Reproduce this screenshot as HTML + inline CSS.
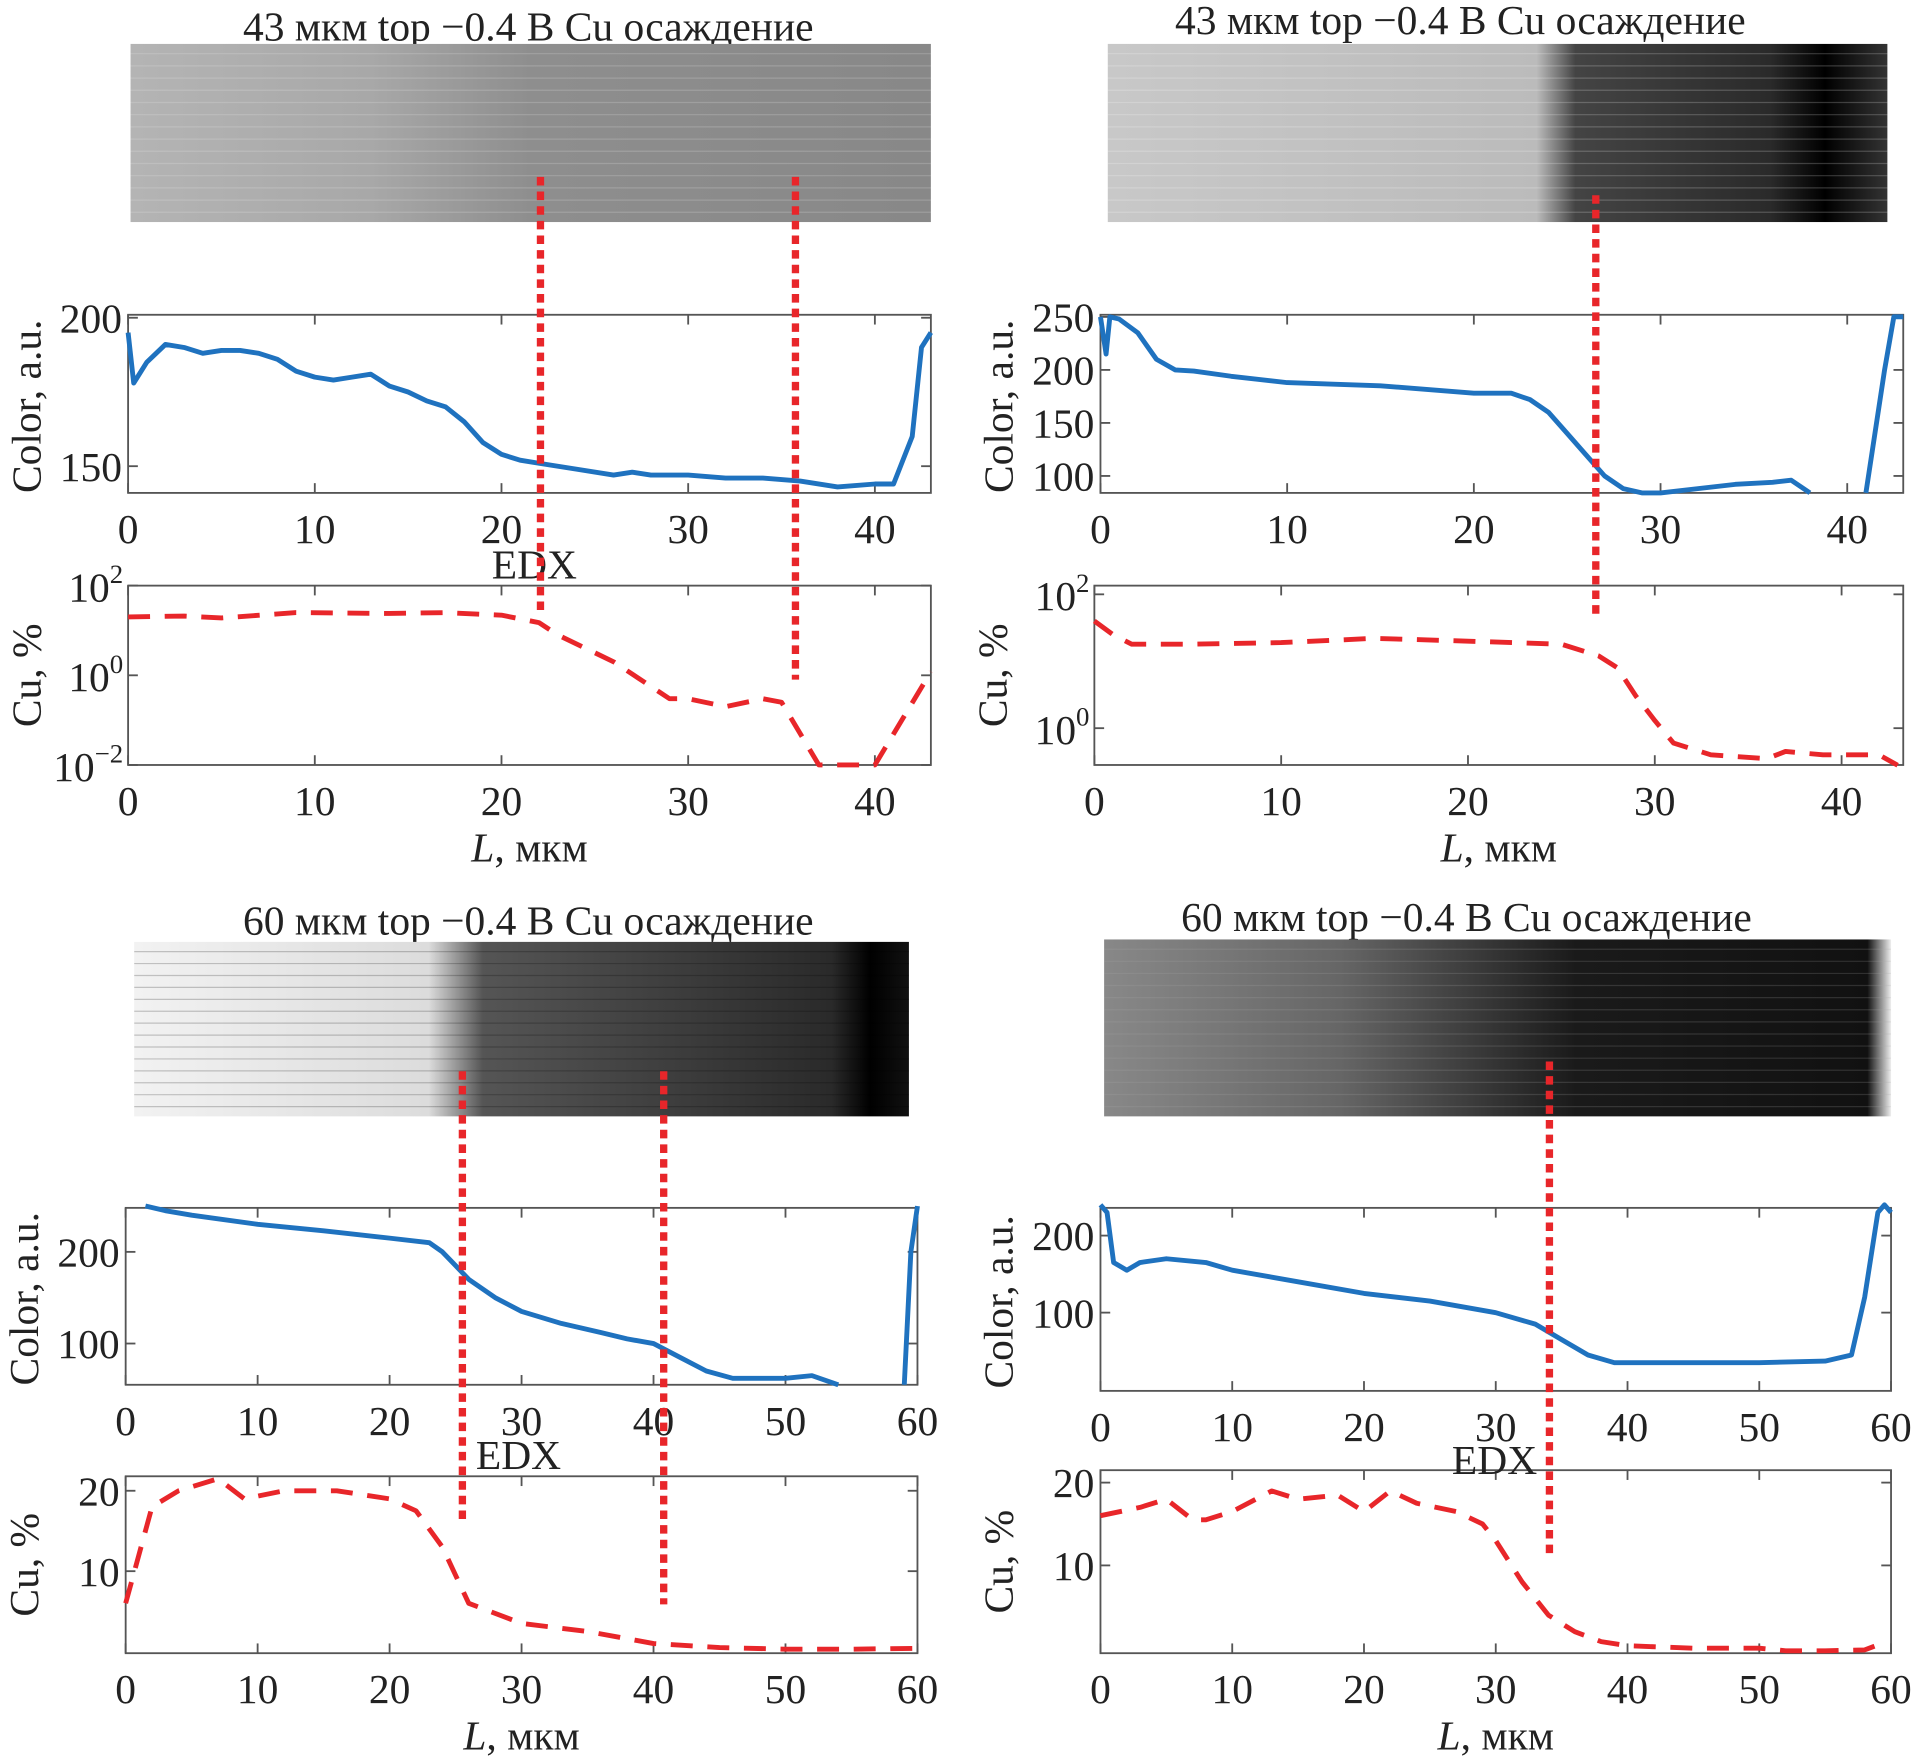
<!DOCTYPE html>
<html><head><meta charset="utf-8"><style>
html,body{margin:0;padding:0;background:#fff}
svg{display:block}
text{font-family:"Liberation Serif",serif;fill:#222}
</style></head><body>
<svg id="fig" width="1913" height="1763" viewBox="0 0 1568 1445" preserveAspectRatio="none" xmlns="http://www.w3.org/2000/svg">
<defs>
<linearGradient id="gA" x1="0" x2="1"><stop offset="0" stop-color="#b4b4b4"/><stop offset="0.3" stop-color="#a8a8a8"/><stop offset="0.5" stop-color="#8e8e8e"/><stop offset="1" stop-color="#888"/></linearGradient>
<linearGradient id="gB" x1="0" x2="1"><stop offset="0" stop-color="#c8c8c8"/><stop offset="0.55" stop-color="#bbb"/><stop offset="0.6" stop-color="#444"/><stop offset="0.85" stop-color="#2a2a2a"/><stop offset="0.92" stop-color="#000"/><stop offset="1" stop-color="#333"/></linearGradient>
<linearGradient id="gC" x1="0" x2="1"><stop offset="0" stop-color="#f2f2f2"/><stop offset="0.38" stop-color="#dcdcdc"/><stop offset="0.45" stop-color="#555"/><stop offset="0.9" stop-color="#2a2a2a"/><stop offset="0.95" stop-color="#000"/><stop offset="1" stop-color="#111"/></linearGradient>
<linearGradient id="gD" x1="0" x2="1"><stop offset="0" stop-color="#888"/><stop offset="0.3" stop-color="#666"/><stop offset="0.6" stop-color="#1a1a1a"/><stop offset="0.97" stop-color="#111"/><stop offset="1" stop-color="#eee"/></linearGradient>
</defs>
<g id="root"></g>
</svg>
<script>
// ---- Panel A data ----
const aColorX=[0,0.3,1,2,3,4,5,6,7,8,9,10,11,12,13,14,15,16,17,18,19,20,21,22,24,26,27,28,30,32,34,36,38,40,41,42,42.5,43];
const aColorY=[195,178,185,191,190,188,189,189,188,186,182,180,179,180,181,177,175,172,170,165,158,154,152,151,149,147,148,147,147,146,146,145,143,144,144,160,190,195];
const aEdxX=[0,3,5,9,14,17,20,22,23,26,29,30,32,34,35,37,38,40,43];
const aEdxY=[20,21,19,25,24,25,22,15,8,2,0.3,0.3,0.2,0.3,0.25,0.01,0.01,0.01,1.2];
// ---- Panel B data ----
const bColorX=[0,0.3,0.5,1,2,3,4,5,7,10,15,20,22,23,24,25,26,27,28,29,30,32,34,36,37,38,null,41,42,42.5,43];
const bColorY=[250,215,250,248,235,210,200,199,194,188,185,178,178,172,160,140,120,100,88,84,84,88,92,94,96,84,null,84,200,250,250];
const bEdxX=[0,1,2,5,10,15,20,25,27,28,29,30,31,33,36,37,39,42,43];
const bEdxY=[40,25,18,18,19,22,20,18,12,8,3,1.3,0.6,0.4,0.35,0.45,0.4,0.4,0.28];
// ---- Panel C data ----
const cColorX=[1.5,3,5,10,15,20,23,24,25,26,28,30,33,36,38,40,42,44,46,48,50,52,54,null,59,59.5,60];
const cColorY=[250,245,240,230,223,215,210,200,185,170,150,135,122,112,105,100,85,70,62,62,62,65,55,null,55,200,250];
const cEdxX=[0,1,2,4,7,9,12,16,20,22,24,26,30,35,40,45,50,55,60];
const cEdxY=[6,12,18,20,21.5,19,20,20,19,17.5,13,6,3.5,2.5,1,0.5,0.3,0.3,0.4];
// ---- Panel D data ----
const dColorX=[0,0.5,1,2,3,5,8,10,15,20,25,30,33,35,37,39,42,50,55,57,58,59,59.5,60];
const dColorY=[240,230,165,155,165,170,165,155,140,125,115,100,85,65,45,35,35,35,37,45,120,230,240,230];
const dEdxX=[0,3,5,7,8,10,13,15,18,20,22,24,27,29,30,32,34,36,38,40,45,50,52,55,58,59];
const dEdxY=[16,17,18,15.5,15.5,16.5,19,18,18.5,16.5,19,17.5,16.5,15,13,8,4,2,0.8,0.3,0,0,-0.3,-0.3,-0.2,0.4];
// tick labels
const xTicks43=[0,10,20,30,40];
const xTicks60=[0,10,20,30,40,50,60];

const NS='http://www.w3.org/2000/svg';
const root=document.getElementById('root');
const FS=34;
function mk(tag,attrs,parent){const e=document.createElementNS(NS,tag);for(const k in attrs)e.setAttribute(k,attrs[k]);(parent||root).appendChild(e);return e;}
function txt(x,y,s,size,anchor,parent){const t=mk('text',{x:x,y:y,'font-size':size,'text-anchor':anchor||'middle'},parent);t.textContent=s;return t;}
function scale(d0,d1,r0,r1){return v=>r0+(v-d0)/(d1-d0)*(r1-r0);}

function axes(g,x0,x1,y0,y1,xs,ys,xt,yt,ylabels,log){
  const fr=mk('rect',{x:x0,y:y0,width:x1-x0,height:y1-y0,fill:'none',stroke:'#555','stroke-width':1.5},g);
  
  
  xt.forEach(v=>{const X=xs(v);mk('line',{x1:X,x2:X,y1:y1,y2:y1-8,stroke:'#555','stroke-width':1.5},g);mk('line',{x1:X,x2:X,y1:y0,y2:y0+8,stroke:'#555','stroke-width':1.5},g);
    const t=txt(X,y1+41,String(v),FS,'middle',g);
    
    });
  yt.forEach((v,i)=>{const Y=ys(v);mk('line',{x1:x0,x2:x0+8,y1:Y,y2:Y,stroke:'#555','stroke-width':1.5},g);mk('line',{x1:x1,x2:x1-8,y1:Y,y2:Y,stroke:'#555','stroke-width':1.5},g);
    let t;
    if(log){t=txt(x0-4,Y+13,'10',FS,'end',g);const s=mk('tspan',{dy:-15,'font-size':22},t);s.textContent=ylabels[i];}
    else t=txt(x0-5,Y+12,ylabels[i],FS,'end',g);
    
    });
}
function line(g,X,Y,xs,ys,color,w,dash,name){
  let d='',pen=false;
  for(let i=0;i<X.length;i++){ if(X[i]===null){pen=false;continue;} d+=(pen?'L':'M')+xs(X[i]).toFixed(1)+' '+ys(Y[i]).toFixed(1)+' '; pen=true;}
  const p=mk('path',{d:d,fill:'none',stroke:color,'stroke-width':w,'stroke-dasharray':dash||'none','stroke-linejoin':'round'},g);
  
  
}
function vdot(g,x,ya,yb){const l=mk('line',{x1:x,x2:x,y1:ya,y2:yb,stroke:'#e8262a','stroke-width':6,'stroke-dasharray':'7 5'},g);
  
  }

function panel(cfg){
  const g=mk('g',{});
  
  
  const t=txt(cfg.titleX,cfg.titleY,cfg.title,FS,'middle',g);
  
  
  const im=mk('rect',{x:cfg.img[0],y:cfg.img[1],width:cfg.img[2]-cfg.img[0],height:cfg.img[3]-cfg.img[1],fill:cfg.grad},g);
  
  
  for(let k=0;k<14;k++){const yy=cfg.img[1]+8+k*(cfg.img[3]-cfg.img[1]-16)/13;
    mk('line',{x1:cfg.img[0],x2:cfg.img[2],y1:yy,y2:yy,stroke:cfg.streak,'stroke-width':1,opacity:0.2},g);}
  const c=cfg.c; const xs=scale(c.xd[0],c.xd[1],c.x0,c.x1); const ys=scale(c.yd[0],c.yd[1],c.y1,c.y0);
  axes(g,c.x0,c.x1,c.y0,c.y1,xs,ys,c.xt,c.yt,c.yt.map(String),false);
  line(g,cfg.cx,cfg.cy,xs,ys,'#1f72bf',4,null,'color-profile-line');
  const yl=txt(0,0,'Color, a.u.',FS,'middle',g); yl.setAttribute('transform',`translate(${c.x0-72},${(c.y0+c.y1)/2+2}) rotate(-90)`);
  
  
  const e=cfg.e; const ex=scale(e.xd[0],e.xd[1],e.x0,e.x1);
  let ey;
  if(e.log){const f=scale(e.yd[0],e.yd[1],e.y1,e.y0);ey=v=>f(Math.log10(Math.max(v,1e-3)));}
  else ey=scale(e.yd[0],e.yd[1],e.y1,e.y0);
  const et=e.log?e.yt.map(v=>Math.pow(10,v)):e.yt;
  axes(g,e.x0,e.x1,e.y0,e.y1,ex,ey,e.xt,et,e.log?e.yt.map(v=>v<0?'−'+(-v):String(v)):e.yt.map(String),e.log);
  line(g,cfg.ex,cfg.ey,ex,ey,'#e8262a',4,'18 12','edx-cu-line');
  const el=txt(0,0,'Cu, %',FS,'middle',g); el.setAttribute('transform',`translate(${e.x0-72},${(e.y0+e.y1)/2}) rotate(-90)`);
  
  
  const ed=txt(cfg.edx[0],cfg.edx[1],'EDX',FS,'middle',g);
  
  
  const xl=txt((e.x0+e.x1)/2,e.y1+79,'',FS,'middle',g);
  const it=mk('tspan',{'font-style':'italic'},xl); it.textContent='L';
  const rest=mk('tspan',{},xl); rest.textContent=', мкм';
  
  
  cfg.v.forEach(v=>vdot(g,v[0],v[1],v[2]));
}

panel({name:'panel-43um-left',title:'43 мкм top −0.4 В Cu осаждение',titleX:433,titleY:33,img:[107,36,763,182],grad:'url(#gA)',streak:'#eee',
  c:{x0:105,x1:763,y0:258,y1:404,xd:[0,43],yd:[141,201],xt:xTicks43,yt:[150,200]},cx:aColorX,cy:aColorY,
  e:{x0:105,x1:763,y0:480,y1:627,xd:[0,43],yd:[-2,2],xt:xTicks43,yt:[-2,0,2],log:true},ex:aEdxX,ey:aEdxY,edx:[438,474],
  v:[[443,145,505],[652,145,557]]});
panel({name:'panel-43um-right',title:'43 мкм top −0.4 В Cu осаждение',titleX:1197,titleY:28,img:[908,36,1547,182],grad:'url(#gB)',streak:'#fff',
  c:{x0:902,x1:1560,y0:258,y1:404,xd:[0,43],yd:[84,252],xt:xTicks43,yt:[100,150,200,250]},cx:bColorX,cy:bColorY,
  e:{x0:897,x1:1560,y0:480,y1:627,xd:[0,43.3],yd:[-0.55,2.13],xt:xTicks43,yt:[0,2],log:true},ex:bEdxX,ey:bEdxY,edx:[-100,-100],
  v:[[1308,160,508]]});
panel({name:'panel-60um-left',title:'60 мкм top −0.4 В Cu осаждение',titleX:433,titleY:766,img:[110,772,745,915],grad:'url(#gC)',streak:'#000',
  c:{x0:103,x1:752,y0:990,y1:1135,xd:[0,60],yd:[55,248],xt:xTicks60,yt:[100,200]},cx:cColorX,cy:cColorY,
  e:{x0:103,x1:752,y0:1210,y1:1355,xd:[0,60],yd:[-0.2,21.8],xt:xTicks60,yt:[10,20],log:false},ex:cEdxX,ey:cEdxY,edx:[425,1204],
  v:[[379,878,1250],[544,878,1315]]});
panel({name:'panel-60um-right',title:'60 мкм top −0.4 В Cu осаждение',titleX:1202,titleY:763,img:[905,770,1550,915],grad:'url(#gD)',streak:'#aaa',
  c:{x0:902,x1:1550,y0:990,y1:1140,xd:[0,60],yd:[-1.6,236],xt:xTicks60,yt:[100,200]},cx:dColorX,cy:dColorY,
  e:{x0:902,x1:1550,y0:1205,y1:1355,xd:[0,60],yd:[-0.6,21.5],xt:xTicks60,yt:[10,20],log:false},ex:dEdxX,ey:dEdxY,edx:[1225,1208],
  v:[[1270,870,1278]]});
</script>
</body></html>
